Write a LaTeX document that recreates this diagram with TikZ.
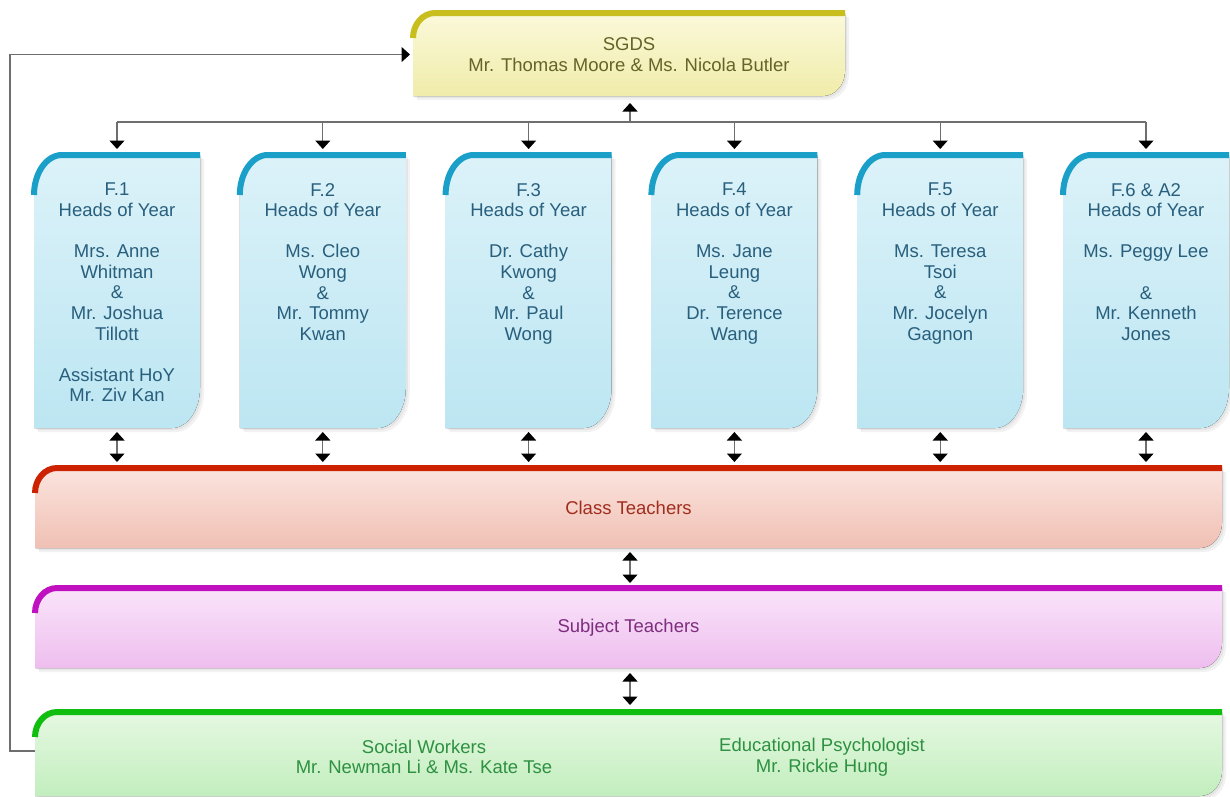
\documentclass[tikz,border=0pt]{standalone}
\usepackage{fontspec}
\setmainfont{Liberation Sans}
\usetikzlibrary{arrows.meta,calc}

\definecolor{sgStroke}{RGB}{200,190,30}
\definecolor{sgTop}{RGB}{251,249,218}
\definecolor{sgBot}{RGB}{240,236,170}
\definecolor{sgText}{RGB}{100,100,40}
\definecolor{yrStroke}{RGB}{26,160,200}
\definecolor{yrTop}{RGB}{220,242,249}
\definecolor{yrBot}{RGB}{188,230,242}
\definecolor{yrText}{RGB}{40,95,125}
\definecolor{ctStroke}{RGB}{204,34,0}
\definecolor{ctTop}{RGB}{251,228,222}
\definecolor{ctBot}{RGB}{240,192,180}
\definecolor{ctText}{RGB}{160,45,30}
\definecolor{stStroke}{RGB}{192,16,192}
\definecolor{stTop}{RGB}{250,228,250}
\definecolor{stBot}{RGB}{238,190,238}
\definecolor{stText}{RGB}{125,45,125}
\definecolor{swStroke}{RGB}{16,190,16}
\definecolor{swTop}{RGB}{230,248,226}
\definecolor{swBot}{RGB}{194,238,190}
\definecolor{swText}{RGB}{45,145,65}
\definecolor{lnGray}{RGB}{110,110,110}

\newcommand\tabbox[7]{%
  \fill[black,opacity=0.05,transform canvas={shift={(4pt,-4pt)}}]
    ([yshift=-#3]#1.north west) arc[start angle=180,end angle=90,x radius=#2,y radius=#3]
    -- (#1.north east) -- ([yshift=#3]#1.south east)
    arc[start angle=0,end angle=-90,x radius=#2,y radius=#3] -- (#1.south west) -- cycle;
  \fill[black,opacity=0.05,transform canvas={shift={(2pt,-2pt)}}]
    ([yshift=-#3]#1.north west) arc[start angle=180,end angle=90,x radius=#2,y radius=#3]
    -- (#1.north east) -- ([yshift=#3]#1.south east)
    arc[start angle=0,end angle=-90,x radius=#2,y radius=#3] -- (#1.south west) -- cycle;
  \fill[top color=#5,bottom color=#6]
    ([yshift=-#3]#1.north west) arc[start angle=180,end angle=90,x radius=#2,y radius=#3]
    -- (#1.north east) -- ([yshift=#3]#1.south east)
    arc[start angle=0,end angle=-90,x radius=#2,y radius=#3] -- (#1.south west) -- cycle;
  \draw[#4,line width=#7]
    ([yshift=-#3]#1.north west) arc[start angle=180,end angle=90,x radius=#2,y radius=#3]
    -- (#1.north east);
}

\tikzset{
  geo/.style={inner sep=0pt,outer sep=0pt,draw=none},
  txt/.style={inner sep=0pt,align=center,font=\fontsize{18.5}{20.6}\selectfont},
  conn/.style={line width=1.1pt,draw=lnGray},
  tipA/.tip={Triangle[width=15pt,length=8.5pt,black]},
  >={tipA}
}

\begin{document}
\begin{tikzpicture}[x=1pt,y=-1pt]
\fill[white] (0,0) rectangle (1230,796);
\useasboundingbox (0,0) rectangle (1230,796);

% geometry nodes
\node[geo,minimum width=432pt,minimum height=83pt] (sgds) at (629,54.5) {};
\foreach \i/\c in {1/117,2/322.8,3/528.6,4/734.4,5/940.2,6/1146}{
  \node[geo,minimum width=166pt,minimum height=273pt] (f\i) at (\c,291.5) {};
}
\node[geo,minimum width=1187pt,minimum height=80pt] (ct) at (628.5,508) {};
\node[geo,minimum width=1187pt,minimum height=80pt] (st) at (628.5,628) {};
\node[geo,minimum width=1187pt,minimum height=84pt] (sw) at (628.5,754) {};

% shapes
\tabbox{sgds}{22pt}{25pt}{sgStroke}{sgTop}{sgBot}{6pt}
\foreach \i in {1,...,6}{\tabbox{f\i}{28pt}{40pt}{yrStroke}{yrTop}{yrBot}{6pt}}
\tabbox{ct}{22pt}{25pt}{ctStroke}{ctTop}{ctBot}{6pt}
\tabbox{st}{22pt}{25pt}{stStroke}{stTop}{stBot}{6pt}
\tabbox{sw}{22pt}{25pt}{swStroke}{swTop}{swBot}{6pt}

% texts
\node[txt,text=sgText] (sgdst) at (sgds) {SGDS\\Mr. Thomas Moore \& Ms. Nicola Butler};
\node[txt,text=yrText,anchor=north] (f1t) at ([yshift=-28pt]f1.north)
  {F.1\\Heads of Year\\[20.6pt]Mrs. Anne\\Whitman\\\&\\Mr. Joshua\\Tillott\\[20.6pt]Assistant HoY\\Mr. Ziv Kan};
\node[txt,text=yrText,anchor=north] (f2t) at ([yshift=-28pt]f2.north)
  {F.2\\Heads of Year\\[20.6pt]Ms. Cleo\\Wong\\\&\\Mr. Tommy\\Kwan};
\node[txt,text=yrText,anchor=north] (f3t) at ([yshift=-28pt]f3.north)
  {F.3\\Heads of Year\\[20.6pt]Dr. Cathy\\Kwong\\\&\\Mr. Paul\\Wong};
\node[txt,text=yrText,anchor=north] (f4t) at ([yshift=-28pt]f4.north)
  {F.4\\Heads of Year\\[20.6pt]Ms. Jane\\Leung\\\&\\Dr. Terence\\Wang};
\node[txt,text=yrText,anchor=north] (f5t) at ([yshift=-28pt]f5.north)
  {F.5\\Heads of Year\\[20.6pt]Ms. Teresa\\Tsoi\\\&\\Mr. Jocelyn\\Gagnon};
\node[txt,text=yrText,anchor=north] (f6t) at ([yshift=-28pt]f6.north)
  {F.6 \& A2\\Heads of Year\\[20.6pt]Ms. Peggy Lee\\[20.6pt]\&\\Mr. Kenneth\\Jones};
\node[txt,text=ctText] (ctt) at (ct) {Class Teachers};
\node[txt,text=stText] (stt) at (st) {Subject Teachers};
\node[txt,text=swText] (swa) at (424,757) {Social Workers\\Mr. Newman Li \& Ms. Kate Tse};
\node[txt,text=swText] (swb) at (822,757) {Educational Psychologist\\Mr. Rickie Hung};

% connectors
\coordinate (bus) at (630,122);
\draw[conn] (f1.north |- bus) -- (f6.north |- bus);
\draw[conn,->,shorten >=7pt] (bus) -- (bus |- sgds.south);
\foreach \i in {1,...,6}{
  \draw[conn,->,shorten >=6pt] (f\i.north |- bus) -- (f\i.north);
  \draw[conn,<->,shorten <=4pt,shorten >=6pt] (f\i.south) -- (f\i.south |- ct.north);
}
\draw[conn,<->,shorten <=4pt,shorten >=5pt] (bus |- ct.south) -- (bus |- st.north);
\draw[conn,<->,shorten <=5pt,shorten >=7pt] (bus |- st.south) -- (bus |- sw.north);

\coordinate (fb) at (10,751);
\draw[conn,line width=1.3pt,->,shorten >=3pt]
  (sw.west |- fb) -- (fb) |- (sgds.west);
\end{tikzpicture}
\end{document}
